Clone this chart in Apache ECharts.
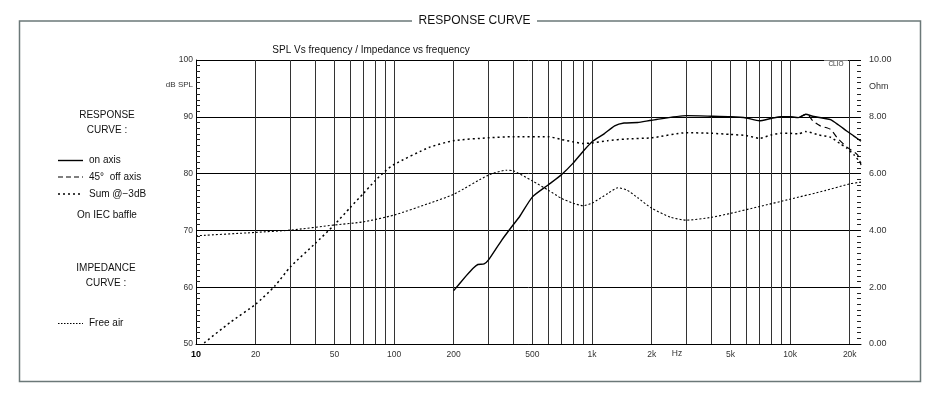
<!DOCTYPE html>
<html>
<head>
<meta charset="utf-8">
<script src="https://cdn.jsdelivr.net/npm/echarts@6/dist/echarts.min.js"></script>
<style>
  html, body { margin: 0; padding: 0; background: #fff; }
  #chart { width: 941px; height: 396px; }
</style>
</head>
<body>
<div id="chart"></div>
<script>
// frequency grid and tick labels (Hz)
const gridFreqs = [10, 20, 30, 40, 50, 60, 70, 80, 90, 100, 200, 300, 400, 500, 600, 700, 800, 900,
  1000, 2000, 3000, 4000, 5000, 6000, 7000, 8000, 9000, 10000, 20000]
const labelFreqs = [10, 20, 50, 100, 200, 500, 1000, 2000, 5000, 10000, 20000]

// on axis response (dB SPL)
const onAxisFreq = [200, 230, 250, 265, 285, 300, 350, 400, 430, 500, 600, 700, 800, 900, 1000, 1150, 1300,
  1450, 1700, 2000, 3000, 4000, 5000, 6000, 7000, 8000, 9000, 10000, 11000, 12000, 13000, 15000, 16000, 17500,
  19300, 21000, 22800]
const onAxisSpl = [59.4, 61.9, 63.3, 64.0, 64.1, 64.8, 68.3, 71.0, 72.4, 75.9, 78.0, 79.8, 81.8, 83.9, 85.6, 87.0, 88.4,
  88.9, 89.0, 89.4, 90.2, 90.1, 90.0, 89.8, 89.3, 89.7, 90.0, 90.0, 89.85, 90.45, 90.1, 89.7, 89.5, 88.6,
  87.5, 86.6, 85.7]

// 45 deg off axis (dB SPL)
const offAxisFreq = [10000, 11000, 12000, 12500, 13000, 14200, 16000, 17400, 19300, 21900, 22800]
const offAxisSpl = [90.0, 89.85, 90.45, 90.1, 89.3, 88.4, 87.8, 86.2, 84.7, 83.3, 81.5]

// sum @-3dB (dB SPL)
const sumFreq = [11, 15, 20, 25, 30, 40, 50, 60, 70, 80, 90, 100, 150, 200, 300, 400, 600, 700, 800, 900,
  1000, 1200, 1500, 2000, 3000, 4000, 5000, 6000, 7000, 8000, 9000, 10000, 11000, 12000, 14000, 16000,
  18000, 19300, 21000, 22800]
const sumSpl = [50.2, 53.9, 57.0, 60.2, 63.6, 67.7, 71.0, 74.0, 76.5, 78.7, 80.4, 81.6, 84.6, 85.8, 86.3, 86.5,
  86.5, 86.0, 85.6, 85.3, 85.4, 85.8, 86.1, 86.3, 87.2, 87.1, 86.9, 86.7, 86.2, 86.8, 87.1, 87.1, 87.0, 87.4,
  86.8, 86.4, 85.2, 84.5, 83.3, 81.8]

// impedance, free air (Ohm)
const impFreq = [10, 20, 30, 50, 70, 100, 150, 200, 300, 370, 400, 500, 600, 700, 800, 900, 1000, 1200,
  1350, 1500, 1700, 2000, 2500, 3000, 4000, 5000, 7000, 10000, 15000, 20000, 22800]
const impOhm = [3.81, 3.93, 4.01, 4.19, 4.30, 4.54, 4.95, 5.27, 5.95, 6.12, 6.10, 5.74, 5.42, 5.13, 4.96, 4.87,
  4.96, 5.30, 5.50, 5.42, 5.15, 4.78, 4.46, 4.36, 4.46, 4.60, 4.84, 5.10, 5.40, 5.64, 5.70]

const pairs = (xs, ys) => xs.map((x, i) => [x, ys[i]])
const FONT = 'Liberation Sans, Arial, sans-serif'

const chart = echarts.init(document.getElementById('chart'), null, { renderer: 'canvas' })

function txt(x, y, text, size, align, fill) {
  return {
    type: 'text', x: x, y: y, silent: true,
    style: { text: text, fontSize: size, fontFamily: FONT, fill: fill || '#111', align: align || 'left', verticalAlign: 'middle' }
  }
}
function seg(y, dash, width) {
  return {
    type: 'line', silent: true,
    shape: { x1: 58, y1: y, x2: 83, y2: y },
    style: { stroke: '#000', lineWidth: width, lineDash: dash }
  }
}

chart.setOption({
  animation: false,
  backgroundColor: '#fff',
  grid: { left: 196, right: 80, top: 60, bottom: 52 },
  xAxis: {
    type: 'log',
    logBase: 10,
    min: 10,
    max: 22800,
    axisLine: { show: true, lineStyle: { color: '#000', width: 1 } },
    axisTick: { show: false, customValues: gridFreqs },
    splitLine: { show: true, lineStyle: { color: '#333', width: 1 } },
    axisLabel: {
      customValues: labelFreqs,
      margin: 6,
      fontSize: 8.5,
      fontFamily: FONT,
      color: '#333',
      formatter: function (v) {
        if (v === 10) return '{b|10}'
        return v >= 1000 ? (v / 1000) + 'k' : String(v)
      },
      rich: { b: { fontWeight: 'bold', fontSize: 9, color: '#000', fontFamily: FONT } }
    }
  },
  yAxis: [
    {
      type: 'value',
      min: 50,
      max: 100,
      interval: 10,
      axisLine: { show: true, lineStyle: { color: '#000', width: 1 } },
      axisTick: { show: true, inside: true, length: 4, lineStyle: { color: '#000' } },
      minorTick: { show: true, splitNumber: 10, length: 4, lineStyle: { color: '#222' } },
      splitLine: { show: true, lineStyle: { color: '#000', width: 1 } },
      axisLabel: { margin: 3, fontSize: 8.5, fontFamily: FONT, color: '#333' }
    },
    {
      type: 'value',
      min: 0,
      max: 10,
      interval: 2,
      position: 'right',
      axisLine: { show: false },
      axisTick: { show: true, inside: true, length: 4, lineStyle: { color: '#000' } },
      minorTick: { show: true, splitNumber: 10, length: 4, lineStyle: { color: '#222' } },
      splitLine: { show: false },
      axisLabel: {
        margin: 8, fontSize: 9, fontFamily: FONT, color: '#333',
        formatter: v => v.toFixed(2)
      }
    }
  ],
  series: [
    {
      name: 'Free air', type: 'line', yAxisIndex: 1, data: pairs(impFreq, impOhm),
      showSymbol: false, smooth: 0.2,
      lineStyle: { color: '#000', width: 1.1, type: [2, 2] }
    },
    {
      name: 'Sum @-3dB', type: 'line', yAxisIndex: 0, data: pairs(sumFreq, sumSpl),
      showSymbol: false, smooth: 0.2,
      lineStyle: { color: '#000', width: 1.5, type: [2, 3] }
    },
    {
      name: '45° off axis', type: 'line', yAxisIndex: 0, data: pairs(offAxisFreq, offAxisSpl),
      showSymbol: false, smooth: 0.2,
      lineStyle: { color: '#000', width: 1.2, type: [6, 4] }
    },
    {
      name: 'on axis', type: 'line', yAxisIndex: 0, data: pairs(onAxisFreq, onAxisSpl),
      showSymbol: false, smooth: 0.2,
      lineStyle: { color: '#000', width: 1.4, type: 'solid' }
    }
  ],
  graphic: [
    {
      type: 'rect', silent: true, z: -1,
      shape: { x: 19.5, y: 21, width: 901, height: 360.5 },
      style: { fill: 'none', stroke: '#6b7878', lineWidth: 1.5 }
    },
    {
      type: 'rect', silent: true,
      shape: { x: 412, y: 12, width: 125, height: 18 },
      style: { fill: '#fff' }
    },
    txt(474.5, 21, 'RESPONSE CURVE', 12, 'center'),
    txt(371, 50, 'SPL Vs frequency / Impedance vs frequency', 10, 'center'),
    txt(193, 85, 'dB SPL', 8, 'right', '#333'),
    txt(869, 87, 'Ohm', 9, 'left', '#333'),
    txt(677, 354, 'Hz', 8.5, 'center', '#333'),
    {
      type: 'rect', silent: true, z: 10,
      shape: { x: 824, y: 60.5, width: 24, height: 8 },
      style: { fill: '#fff' }
    },
    {
      type: 'text', silent: true, z: 11, x: 836, y: 64.5,
      style: { text: 'CLIO', fontSize: 6.5, fontFamily: FONT, fill: '#333', align: 'center', verticalAlign: 'middle' }
    },
    txt(107, 115, 'RESPONSE', 10, 'center'),
    txt(107, 130, 'CURVE :', 10, 'center'),
    seg(160.5, null, 1.4),
    txt(89, 160.5, 'on axis', 10),
    seg(177, [5, 3], 1.2),
    txt(89, 177, '45°  off axis', 10),
    seg(194, [2, 3], 1.3),
    txt(89, 194, 'Sum @−3dB', 10),
    txt(107, 215, 'On IEC baffle', 10, 'center'),
    txt(106, 268, 'IMPEDANCE', 10, 'center'),
    txt(106, 283.5, 'CURVE :', 10, 'center'),
    seg(323.5, [1.5, 1.5], 1),
    txt(89, 323.5, 'Free air', 10)
  ]
})
</script>
</body>
</html>
